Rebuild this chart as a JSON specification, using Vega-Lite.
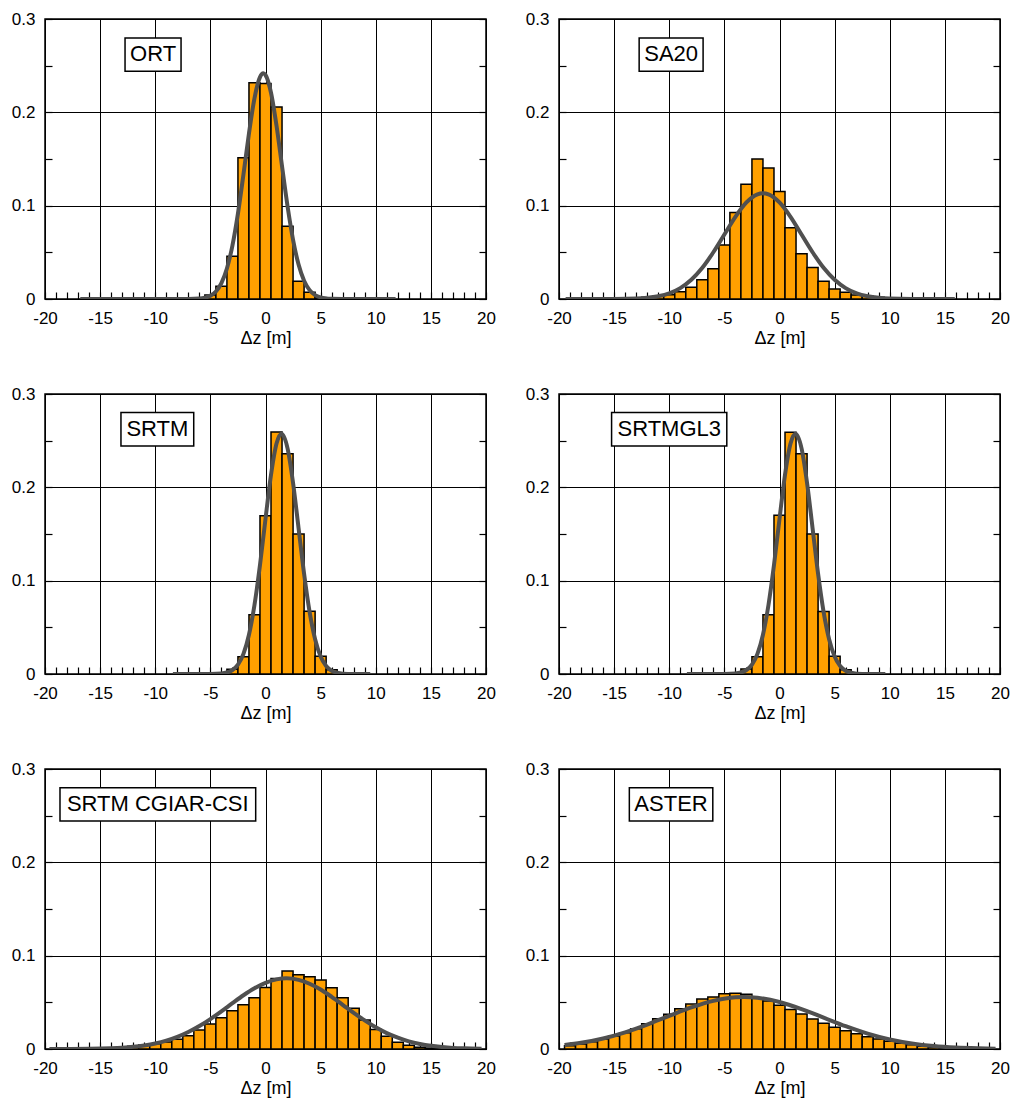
{
  "$schema": "https://vega.github.io/schema/vega-lite/v6.json",
  "background": "white",
  "padding": {"left": 10, "top": 9, "right": 2, "bottom": 2},
  "config": {
    "view": {"stroke": "black", "strokeWidth": 1.5},
    "font": "Liberation Sans",
    "text": {"font": "Liberation Sans"}
  },
  "datasets": {
    "bars": [
      {"p":"ORT","lo":-6.5,"hi":-5.5,"d":0.001},{"p":"ORT","lo":-5.5,"hi":-4.5,"d":0.0043},{"p":"ORT","lo":-4.5,"hi":-3.5,"d":0.0137},{"p":"ORT","lo":-3.5,"hi":-2.5,"d":0.0457},{"p":"ORT","lo":-2.5,"hi":-1.5,"d":0.1514},{"p":"ORT","lo":-1.5,"hi":-0.5,"d":0.2317},{"p":"ORT","lo":-0.5,"hi":0.5,"d":0.2309},{"p":"ORT","lo":0.5,"hi":1.5,"d":0.2058},{"p":"ORT","lo":1.5,"hi":2.5,"d":0.078},{"p":"ORT","lo":2.5,"hi":3.5,"d":0.019},{"p":"ORT","lo":3.5,"hi":4.5,"d":0.0072},{"p":"ORT","lo":4.5,"hi":5.5,"d":0.0015},
      {"p":"SA20","lo":-13.5,"hi":-12.5,"d":0.001},{"p":"SA20","lo":-12.5,"hi":-11.5,"d":0.0018},{"p":"SA20","lo":-11.5,"hi":-10.5,"d":0.003},{"p":"SA20","lo":-10.5,"hi":-9.5,"d":0.0045},{"p":"SA20","lo":-9.5,"hi":-8.5,"d":0.0079},{"p":"SA20","lo":-8.5,"hi":-7.5,"d":0.0126},{"p":"SA20","lo":-7.5,"hi":-6.5,"d":0.0205},{"p":"SA20","lo":-6.5,"hi":-5.5,"d":0.0324},{"p":"SA20","lo":-5.5,"hi":-4.5,"d":0.0579},{"p":"SA20","lo":-4.5,"hi":-3.5,"d":0.0928},{"p":"SA20","lo":-3.5,"hi":-2.5,"d":0.123},{"p":"SA20","lo":-2.5,"hi":-1.5,"d":0.150},{"p":"SA20","lo":-1.5,"hi":-0.5,"d":0.1403},{"p":"SA20","lo":-0.5,"hi":0.5,"d":0.1153},{"p":"SA20","lo":0.5,"hi":1.5,"d":0.0763},{"p":"SA20","lo":1.5,"hi":2.5,"d":0.0486},{"p":"SA20","lo":2.5,"hi":3.5,"d":0.0338},{"p":"SA20","lo":3.5,"hi":4.5,"d":0.0191},{"p":"SA20","lo":4.5,"hi":5.5,"d":0.0108},{"p":"SA20","lo":5.5,"hi":6.5,"d":0.0072},{"p":"SA20","lo":6.5,"hi":7.5,"d":0.0043},{"p":"SA20","lo":7.5,"hi":8.5,"d":0.003},{"p":"SA20","lo":8.5,"hi":9.5,"d":0.0018},{"p":"SA20","lo":9.5,"hi":10.5,"d":0.001},
      {"p":"SRTM","lo":-4.5,"hi":-3.5,"d":0.001},{"p":"SRTM","lo":-3.5,"hi":-2.5,"d":0.005},{"p":"SRTM","lo":-2.5,"hi":-1.5,"d":0.0186},{"p":"SRTM","lo":-1.5,"hi":-0.5,"d":0.0636},{"p":"SRTM","lo":-0.5,"hi":0.5,"d":0.1696},{"p":"SRTM","lo":0.5,"hi":1.5,"d":0.2593},{"p":"SRTM","lo":1.5,"hi":2.5,"d":0.236},{"p":"SRTM","lo":2.5,"hi":3.5,"d":0.150},{"p":"SRTM","lo":3.5,"hi":4.5,"d":0.0671},{"p":"SRTM","lo":4.5,"hi":5.5,"d":0.019},{"p":"SRTM","lo":5.5,"hi":6.5,"d":0.0046},{"p":"SRTM","lo":6.5,"hi":7.5,"d":0.001},
      {"p":"SRTMGL3","lo":-4.5,"hi":-3.5,"d":0.001},{"p":"SRTMGL3","lo":-3.5,"hi":-2.5,"d":0.0054},{"p":"SRTMGL3","lo":-2.5,"hi":-1.5,"d":0.0186},{"p":"SRTMGL3","lo":-1.5,"hi":-0.5,"d":0.0636},{"p":"SRTMGL3","lo":-0.5,"hi":0.5,"d":0.170},{"p":"SRTMGL3","lo":0.5,"hi":1.5,"d":0.259},{"p":"SRTMGL3","lo":1.5,"hi":2.5,"d":0.236},{"p":"SRTMGL3","lo":2.5,"hi":3.5,"d":0.150},{"p":"SRTMGL3","lo":3.5,"hi":4.5,"d":0.067},{"p":"SRTMGL3","lo":4.5,"hi":5.5,"d":0.019},{"p":"SRTMGL3","lo":5.5,"hi":6.5,"d":0.0046},{"p":"SRTMGL3","lo":6.5,"hi":7.5,"d":0.001},
      {"p":"CGIAR","lo":-15.5,"hi":-14.5,"d":0.0005},{"p":"CGIAR","lo":-14.5,"hi":-13.5,"d":0.001},{"p":"CGIAR","lo":-13.5,"hi":-12.5,"d":0.002},{"p":"CGIAR","lo":-12.5,"hi":-11.5,"d":0.003},{"p":"CGIAR","lo":-11.5,"hi":-10.5,"d":0.0043},{"p":"CGIAR","lo":-10.5,"hi":-9.5,"d":0.0057},{"p":"CGIAR","lo":-9.5,"hi":-8.5,"d":0.0075},{"p":"CGIAR","lo":-8.5,"hi":-7.5,"d":0.0104},{"p":"CGIAR","lo":-7.5,"hi":-6.5,"d":0.0143},{"p":"CGIAR","lo":-6.5,"hi":-5.5,"d":0.0204},{"p":"CGIAR","lo":-5.5,"hi":-4.5,"d":0.0268},{"p":"CGIAR","lo":-4.5,"hi":-3.5,"d":0.0336},{"p":"CGIAR","lo":-3.5,"hi":-2.5,"d":0.041},{"p":"CGIAR","lo":-2.5,"hi":-1.5,"d":0.0475},{"p":"CGIAR","lo":-1.5,"hi":-0.5,"d":0.055},{"p":"CGIAR","lo":-0.5,"hi":0.5,"d":0.066},{"p":"CGIAR","lo":0.5,"hi":1.5,"d":0.0755},{"p":"CGIAR","lo":1.5,"hi":2.5,"d":0.0836},{"p":"CGIAR","lo":2.5,"hi":3.5,"d":0.0796},{"p":"CGIAR","lo":3.5,"hi":4.5,"d":0.0775},{"p":"CGIAR","lo":4.5,"hi":5.5,"d":0.0739},{"p":"CGIAR","lo":5.5,"hi":6.5,"d":0.0657},{"p":"CGIAR","lo":6.5,"hi":7.5,"d":0.055},{"p":"CGIAR","lo":7.5,"hi":8.5,"d":0.0436},{"p":"CGIAR","lo":8.5,"hi":9.5,"d":0.031},{"p":"CGIAR","lo":9.5,"hi":10.5,"d":0.021},{"p":"CGIAR","lo":10.5,"hi":11.5,"d":0.0136},{"p":"CGIAR","lo":11.5,"hi":12.5,"d":0.0071},{"p":"CGIAR","lo":12.5,"hi":13.5,"d":0.0039},{"p":"CGIAR","lo":13.5,"hi":14.5,"d":0.0018},{"p":"CGIAR","lo":14.5,"hi":15.5,"d":0.001},{"p":"CGIAR","lo":15.5,"hi":16.5,"d":0.0005},
      {"p":"ASTER","lo":-19.5,"hi":-18.5,"d":0.0035},{"p":"ASTER","lo":-18.5,"hi":-17.5,"d":0.0054},{"p":"ASTER","lo":-17.5,"hi":-16.5,"d":0.0079},{"p":"ASTER","lo":-16.5,"hi":-15.5,"d":0.0107},{"p":"ASTER","lo":-15.5,"hi":-14.5,"d":0.014},{"p":"ASTER","lo":-14.5,"hi":-13.5,"d":0.0175},{"p":"ASTER","lo":-13.5,"hi":-12.5,"d":0.0218},{"p":"ASTER","lo":-12.5,"hi":-11.5,"d":0.0271},{"p":"ASTER","lo":-11.5,"hi":-10.5,"d":0.0325},{"p":"ASTER","lo":-10.5,"hi":-9.5,"d":0.0371},{"p":"ASTER","lo":-9.5,"hi":-8.5,"d":0.0432},{"p":"ASTER","lo":-8.5,"hi":-7.5,"d":0.0482},{"p":"ASTER","lo":-7.5,"hi":-6.5,"d":0.0536},{"p":"ASTER","lo":-6.5,"hi":-5.5,"d":0.0557},{"p":"ASTER","lo":-5.5,"hi":-4.5,"d":0.0593},{"p":"ASTER","lo":-4.5,"hi":-3.5,"d":0.0596},{"p":"ASTER","lo":-3.5,"hi":-2.5,"d":0.0586},{"p":"ASTER","lo":-2.5,"hi":-1.5,"d":0.0545},{"p":"ASTER","lo":-1.5,"hi":-0.5,"d":0.0513},{"p":"ASTER","lo":-0.5,"hi":0.5,"d":0.047},{"p":"ASTER","lo":0.5,"hi":1.5,"d":0.0423},{"p":"ASTER","lo":1.5,"hi":2.5,"d":0.0375},{"p":"ASTER","lo":2.5,"hi":3.5,"d":0.0322},{"p":"ASTER","lo":3.5,"hi":4.5,"d":0.0275},{"p":"ASTER","lo":4.5,"hi":5.5,"d":0.0234},{"p":"ASTER","lo":5.5,"hi":6.5,"d":0.0196},{"p":"ASTER","lo":6.5,"hi":7.5,"d":0.0164},{"p":"ASTER","lo":7.5,"hi":8.5,"d":0.0132},{"p":"ASTER","lo":8.5,"hi":9.5,"d":0.0107},{"p":"ASTER","lo":9.5,"hi":10.5,"d":0.0084},{"p":"ASTER","lo":10.5,"hi":11.5,"d":0.0062},{"p":"ASTER","lo":11.5,"hi":12.5,"d":0.0045},{"p":"ASTER","lo":12.5,"hi":13.5,"d":0.003},{"p":"ASTER","lo":13.5,"hi":14.5,"d":0.002},{"p":"ASTER","lo":14.5,"hi":15.5,"d":0.0012},{"p":"ASTER","lo":15.5,"hi":16.5,"d":0.0007},{"p":"ASTER","lo":16.5,"hi":17.5,"d":0.0004},{"p":"ASTER","lo":17.5,"hi":18.5,"d":0.0002}
    ],
    "curves": [
      {"p":"ORT","z":-16.8,"d":0},{"p":"ORT","z":-7,"d":0.00005},{"p":"ORT","z":-6,"d":0.0005},{"p":"ORT","z":-5.5,"d":0.0014},{"p":"ORT","z":-5,"d":0.0035},{"p":"ORT","z":-4.5,"d":0.0081},{"p":"ORT","z":-4,"d":0.0171},{"p":"ORT","z":-3.5,"d":0.0327},{"p":"ORT","z":-3,"d":0.0573},{"p":"ORT","z":-2.5,"d":0.0915},{"p":"ORT","z":-2,"d":0.1334},{"p":"ORT","z":-1.5,"d":0.1773},{"p":"ORT","z":-1,"d":0.215},{"p":"ORT","z":-0.5,"d":0.2378},{"p":"ORT","z":-0.2,"d":0.2418},{"p":"ORT","z":0,"d":0.24},{"p":"ORT","z":0.5,"d":0.221},{"p":"ORT","z":1,"d":0.1856},{"p":"ORT","z":1.5,"d":0.1422},{"p":"ORT","z":2,"d":0.0994},{"p":"ORT","z":2.5,"d":0.0634},{"p":"ORT","z":3,"d":0.0369},{"p":"ORT","z":3.5,"d":0.0196},{"p":"ORT","z":4,"d":0.0095},{"p":"ORT","z":4.5,"d":0.0042},{"p":"ORT","z":5,"d":0.0017},{"p":"ORT","z":5.5,"d":0.0006},{"p":"ORT","z":6,"d":0.0002},{"p":"ORT","z":7,"d":0.00003},{"p":"ORT","z":11.8,"d":0},
      {"p":"SA20","z":-19.4,"d":0},{"p":"SA20","z":-15,"d":0.0001},{"p":"SA20","z":-13,"d":0.0005},{"p":"SA20","z":-12,"d":0.0013},{"p":"SA20","z":-11,"d":0.003},{"p":"SA20","z":-10,"d":0.0061},{"p":"SA20","z":-9,"d":0.0117},{"p":"SA20","z":-8,"d":0.0206},{"p":"SA20","z":-7,"d":0.0334},{"p":"SA20","z":-6,"d":0.0501},{"p":"SA20","z":-5,"d":0.0691},{"p":"SA20","z":-4,"d":0.0881},{"p":"SA20","z":-3,"d":0.1035},{"p":"SA20","z":-2,"d":0.1122},{"p":"SA20","z":-1.5,"d":0.1133},{"p":"SA20","z":-1,"d":0.1122},{"p":"SA20","z":0,"d":0.1035},{"p":"SA20","z":1,"d":0.0881},{"p":"SA20","z":2,"d":0.0691},{"p":"SA20","z":3,"d":0.0501},{"p":"SA20","z":4,"d":0.0334},{"p":"SA20","z":5,"d":0.0206},{"p":"SA20","z":6,"d":0.0117},{"p":"SA20","z":7,"d":0.0061},{"p":"SA20","z":8,"d":0.003},{"p":"SA20","z":9,"d":0.0013},{"p":"SA20","z":10,"d":0.0005},{"p":"SA20","z":12,"d":0.0001},{"p":"SA20","z":15.9,"d":0},
      {"p":"SRTM","z":-8.4,"d":0},{"p":"SRTM","z":-5,"d":0.00004},{"p":"SRTM","z":-4,"d":0.0005},{"p":"SRTM","z":-3.5,"d":0.0016},{"p":"SRTM","z":-3,"d":0.0042},{"p":"SRTM","z":-2.5,"d":0.01},{"p":"SRTM","z":-2,"d":0.0216},{"p":"SRTM","z":-1.5,"d":0.0421},{"p":"SRTM","z":-1,"d":0.0739},{"p":"SRTM","z":-0.5,"d":0.1167},{"p":"SRTM","z":0,"d":0.1662},{"p":"SRTM","z":0.5,"d":0.2134},{"p":"SRTM","z":1,"d":0.2469},{"p":"SRTM","z":1.45,"d":0.2575},{"p":"SRTM","z":2,"d":0.2418},{"p":"SRTM","z":2.5,"d":0.2047},{"p":"SRTM","z":3,"d":0.1562},{"p":"SRTM","z":3.5,"d":0.1074},{"p":"SRTM","z":4,"d":0.0665},{"p":"SRTM","z":4.5,"d":0.0372},{"p":"SRTM","z":5,"d":0.0187},{"p":"SRTM","z":5.5,"d":0.0085},{"p":"SRTM","z":6,"d":0.0035},{"p":"SRTM","z":6.5,"d":0.0013},{"p":"SRTM","z":7,"d":0.0004},{"p":"SRTM","z":8,"d":0.00003},{"p":"SRTM","z":9.5,"d":0},
      {"p":"SRTMGL3","z":-8.4,"d":0},{"p":"SRTMGL3","z":-5,"d":0.00004},{"p":"SRTMGL3","z":-4,"d":0.0005},{"p":"SRTMGL3","z":-3.5,"d":0.0016},{"p":"SRTMGL3","z":-3,"d":0.0042},{"p":"SRTMGL3","z":-2.5,"d":0.01},{"p":"SRTMGL3","z":-2,"d":0.0216},{"p":"SRTMGL3","z":-1.5,"d":0.0421},{"p":"SRTMGL3","z":-1,"d":0.0739},{"p":"SRTMGL3","z":-0.5,"d":0.1167},{"p":"SRTMGL3","z":0,"d":0.1662},{"p":"SRTMGL3","z":0.5,"d":0.2134},{"p":"SRTMGL3","z":1,"d":0.2469},{"p":"SRTMGL3","z":1.45,"d":0.2575},{"p":"SRTMGL3","z":2,"d":0.2418},{"p":"SRTMGL3","z":2.5,"d":0.2047},{"p":"SRTMGL3","z":3,"d":0.1562},{"p":"SRTMGL3","z":3.5,"d":0.1074},{"p":"SRTMGL3","z":4,"d":0.0665},{"p":"SRTMGL3","z":4.5,"d":0.0372},{"p":"SRTMGL3","z":5,"d":0.0187},{"p":"SRTMGL3","z":5.5,"d":0.0085},{"p":"SRTMGL3","z":6,"d":0.0035},{"p":"SRTMGL3","z":6.5,"d":0.0013},{"p":"SRTMGL3","z":7,"d":0.0004},{"p":"SRTMGL3","z":8,"d":0.00003},{"p":"SRTMGL3","z":9.6,"d":0},
      {"p":"CGIAR","z":-19.6,"d":0.00002},{"p":"CGIAR","z":-18,"d":0.00006},{"p":"CGIAR","z":-16,"d":0.0002},{"p":"CGIAR","z":-14,"d":0.0008},{"p":"CGIAR","z":-13,"d":0.0014},{"p":"CGIAR","z":-12,"d":0.0023},{"p":"CGIAR","z":-11,"d":0.0038},{"p":"CGIAR","z":-10,"d":0.0059},{"p":"CGIAR","z":-9,"d":0.0089},{"p":"CGIAR","z":-8,"d":0.013},{"p":"CGIAR","z":-7,"d":0.0182},{"p":"CGIAR","z":-6,"d":0.0246},{"p":"CGIAR","z":-5,"d":0.0321},{"p":"CGIAR","z":-4,"d":0.0404},{"p":"CGIAR","z":-3,"d":0.0491},{"p":"CGIAR","z":-2,"d":0.0576},{"p":"CGIAR","z":-1,"d":0.0651},{"p":"CGIAR","z":0,"d":0.0709},{"p":"CGIAR","z":1,"d":0.0746},{"p":"CGIAR","z":1.9,"d":0.0757},{"p":"CGIAR","z":3,"d":0.0741},{"p":"CGIAR","z":4,"d":0.0699},{"p":"CGIAR","z":5,"d":0.0637},{"p":"CGIAR","z":6,"d":0.0559},{"p":"CGIAR","z":7,"d":0.0474},{"p":"CGIAR","z":8,"d":0.0387},{"p":"CGIAR","z":9,"d":0.0306},{"p":"CGIAR","z":10,"d":0.0232},{"p":"CGIAR","z":11,"d":0.017},{"p":"CGIAR","z":12,"d":0.0121},{"p":"CGIAR","z":13,"d":0.0082},{"p":"CGIAR","z":14,"d":0.0054},{"p":"CGIAR","z":15,"d":0.0034},{"p":"CGIAR","z":16,"d":0.0021},{"p":"CGIAR","z":17,"d":0.0012},{"p":"CGIAR","z":18,"d":0.0007},{"p":"CGIAR","z":19.6,"d":0.0003},
      {"p":"ASTER","z":-19.5,"d":0.0042},{"p":"ASTER","z":-18,"d":0.0066},{"p":"ASTER","z":-16,"d":0.0113},{"p":"ASTER","z":-14,"d":0.0179},{"p":"ASTER","z":-12,"d":0.0262},{"p":"ASTER","z":-10,"d":0.0355},{"p":"ASTER","z":-8,"d":0.0445},{"p":"ASTER","z":-6,"d":0.0516},{"p":"ASTER","z":-4,"d":0.0554},{"p":"ASTER","z":-3.2,"d":0.0557},{"p":"ASTER","z":-2,"d":0.0549},{"p":"ASTER","z":0,"d":0.0504},{"p":"ASTER","z":2,"d":0.0428},{"p":"ASTER","z":4,"d":0.0336},{"p":"ASTER","z":6,"d":0.0244},{"p":"ASTER","z":8,"d":0.0164},{"p":"ASTER","z":10,"d":0.0102},{"p":"ASTER","z":12,"d":0.0059},{"p":"ASTER","z":14,"d":0.0031},{"p":"ASTER","z":16,"d":0.0015},{"p":"ASTER","z":18,"d":0.0007},{"p":"ASTER","z":19.6,"d":0.00035}
    ]
  },
  "columns": 2,
  "spacing": {"row": 95, "column": 73},
  "bounds": "flush",
  "concat": [
    {
      "width": 441, "height": 280,
      "layer": [
        {"data": {"name": "bars"}, "transform": [{"filter": "datum.p === 'ORT'"}],
         "mark": {"type": "rect", "fill": "#FFA000", "stroke": "black", "strokeWidth": 1.5},
         "encoding": {
           "x": {"field": "lo", "type": "quantitative", "title": "Δz [m]", "scale": {"domain": [-20, 20], "nice": false, "zero": false},
                 "axis": {"values": [-20,-19,-18,-17,-16,-15,-14,-13,-12,-11,-10,-9,-8,-7,-6,-5,-4,-3,-2,-1,0,1,2,3,4,5,6,7,8,9,10,11,12,13,14,15,16,17,18,19,20], "labelExpr": "datum.value % 5 === 0 ? '' + datum.value : ''", "grid": true, "gridColor": "black", "gridWidth": 1, "gridOpacity": {"condition": {"test": "datum.value % 5 === 0", "value": 1}, "value": 0}, "domain": false, "tickSize": -7, "tickColor": "black", "tickWidth": 1.2, "labelFontSize": 17, "labelColor": "black", "labelPadding": 18, "labelFlush": false, "labelOverlap": false, "labelBound": false, "titleFontSize": 18, "titleFontWeight": "normal", "titleColor": "black", "titlePadding": 3}},
           "x2": {"field": "hi"},
           "y": {"field": "d", "type": "quantitative", "title": null, "scale": {"domain": [0, 0.3], "nice": false},
                 "axis": {"values": [0, 0.05, 0.1, 0.15, 0.2, 0.25, 0.3], "labelExpr": "round(datum.value*100) % 10 === 0 ? (datum.value === 0 ? '0' : format(datum.value, '.1f')) : ''", "grid": true, "gridColor": "black", "gridWidth": 1, "gridOpacity": {"condition": {"test": "round(datum.value*100) % 10 === 0", "value": 1}, "value": 0}, "domain": false, "tickSize": -7, "tickColor": "black", "tickWidth": 1.2, "labelFontSize": 17, "labelColor": "black", "labelPadding": 17, "labelFlush": false, "labelOverlap": false, "labelBound": false}},
           "y2": {"datum": 0}
         }},
        {"data": {"name": "curves"}, "transform": [{"filter": "datum.p === 'ORT'"}],
         "mark": {"type": "line", "color": "#505050", "strokeWidth": 4, "interpolate": "monotone", "clip": true},
         "encoding": {
           "x": {"field": "z", "type": "quantitative", "axis": null},
           "y": {"field": "d", "type": "quantitative", "title": null, "axis": {"orient": "right", "values": [0, 0.05, 0.1, 0.15, 0.2, 0.25, 0.3], "labels": false, "grid": false, "domain": false, "tickSize": -7, "tickColor": "black", "tickWidth": 1.2}}
         }},
        {"data": {"values": [{}]},
         "mark": {"type": "rect", "fill": "white", "stroke": "black", "strokeWidth": 1.5},
         "encoding": {"x": {"datum": -12.74, "type": "quantitative", "axis": null}, "x2": {"datum": -7.66}, "y": {"datum": 0.2796, "type": "quantitative", "axis": null}, "y2": {"datum": 0.2441}}},
        {"data": {"values": [{}]},
         "mark": {"type": "text", "fontSize": 22, "color": "black", "align": "center", "baseline": "middle"},
         "encoding": {"x": {"datum": -10.2, "type": "quantitative", "axis": null}, "y": {"datum": 0.262, "type": "quantitative", "axis": null}, "text": {"value": "ORT"}}}
      ],
      "resolve": {"axis": {"x": "independent", "y": "independent"}}
    },
    {
      "width": 441, "height": 280,
      "layer": [
        {"data": {"name": "bars"}, "transform": [{"filter": "datum.p === 'SA20'"}],
         "mark": {"type": "rect", "fill": "#FFA000", "stroke": "black", "strokeWidth": 1.5},
         "encoding": {
           "x": {"field": "lo", "type": "quantitative", "title": "Δz [m]", "scale": {"domain": [-20, 20], "nice": false, "zero": false},
                 "axis": {"values": [-20,-19,-18,-17,-16,-15,-14,-13,-12,-11,-10,-9,-8,-7,-6,-5,-4,-3,-2,-1,0,1,2,3,4,5,6,7,8,9,10,11,12,13,14,15,16,17,18,19,20], "labelExpr": "datum.value % 5 === 0 ? '' + datum.value : ''", "grid": true, "gridColor": "black", "gridWidth": 1, "gridOpacity": {"condition": {"test": "datum.value % 5 === 0", "value": 1}, "value": 0}, "domain": false, "tickSize": -7, "tickColor": "black", "tickWidth": 1.2, "labelFontSize": 17, "labelColor": "black", "labelPadding": 18, "labelFlush": false, "labelOverlap": false, "labelBound": false, "titleFontSize": 18, "titleFontWeight": "normal", "titleColor": "black", "titlePadding": 3}},
           "x2": {"field": "hi"},
           "y": {"field": "d", "type": "quantitative", "title": null, "scale": {"domain": [0, 0.3], "nice": false},
                 "axis": {"values": [0, 0.05, 0.1, 0.15, 0.2, 0.25, 0.3], "labelExpr": "round(datum.value*100) % 10 === 0 ? (datum.value === 0 ? '0' : format(datum.value, '.1f')) : ''", "grid": true, "gridColor": "black", "gridWidth": 1, "gridOpacity": {"condition": {"test": "round(datum.value*100) % 10 === 0", "value": 1}, "value": 0}, "domain": false, "tickSize": -7, "tickColor": "black", "tickWidth": 1.2, "labelFontSize": 17, "labelColor": "black", "labelPadding": 17, "labelFlush": false, "labelOverlap": false, "labelBound": false}},
           "y2": {"datum": 0}
         }},
        {"data": {"name": "curves"}, "transform": [{"filter": "datum.p === 'SA20'"}],
         "mark": {"type": "line", "color": "#505050", "strokeWidth": 4, "interpolate": "monotone", "clip": true},
         "encoding": {
           "x": {"field": "z", "type": "quantitative", "axis": null},
           "y": {"field": "d", "type": "quantitative", "title": null, "axis": {"orient": "right", "values": [0, 0.05, 0.1, 0.15, 0.2, 0.25, 0.3], "labels": false, "grid": false, "domain": false, "tickSize": -7, "tickColor": "black", "tickWidth": 1.2}}
         }},
        {"data": {"values": [{}]},
         "mark": {"type": "rect", "fill": "white", "stroke": "black", "strokeWidth": 1.5},
         "encoding": {"x": {"datum": -12.73, "type": "quantitative", "axis": null}, "x2": {"datum": -6.93}, "y": {"datum": 0.2796, "type": "quantitative", "axis": null}, "y2": {"datum": 0.2441}}},
        {"data": {"values": [{}]},
         "mark": {"type": "text", "fontSize": 22, "color": "black", "align": "center", "baseline": "middle"},
         "encoding": {"x": {"datum": -9.83, "type": "quantitative", "axis": null}, "y": {"datum": 0.262, "type": "quantitative", "axis": null}, "text": {"value": "SA20"}}}
      ],
      "resolve": {"axis": {"x": "independent", "y": "independent"}}
    },
    {
      "width": 441, "height": 280,
      "layer": [
        {"data": {"name": "bars"}, "transform": [{"filter": "datum.p === 'SRTM'"}],
         "mark": {"type": "rect", "fill": "#FFA000", "stroke": "black", "strokeWidth": 1.5},
         "encoding": {
           "x": {"field": "lo", "type": "quantitative", "title": "Δz [m]", "scale": {"domain": [-20, 20], "nice": false, "zero": false},
                 "axis": {"values": [-20,-19,-18,-17,-16,-15,-14,-13,-12,-11,-10,-9,-8,-7,-6,-5,-4,-3,-2,-1,0,1,2,3,4,5,6,7,8,9,10,11,12,13,14,15,16,17,18,19,20], "labelExpr": "datum.value % 5 === 0 ? '' + datum.value : ''", "grid": true, "gridColor": "black", "gridWidth": 1, "gridOpacity": {"condition": {"test": "datum.value % 5 === 0", "value": 1}, "value": 0}, "domain": false, "tickSize": -7, "tickColor": "black", "tickWidth": 1.2, "labelFontSize": 17, "labelColor": "black", "labelPadding": 18, "labelFlush": false, "labelOverlap": false, "labelBound": false, "titleFontSize": 18, "titleFontWeight": "normal", "titleColor": "black", "titlePadding": 3}},
           "x2": {"field": "hi"},
           "y": {"field": "d", "type": "quantitative", "title": null, "scale": {"domain": [0, 0.3], "nice": false},
                 "axis": {"values": [0, 0.05, 0.1, 0.15, 0.2, 0.25, 0.3], "labelExpr": "round(datum.value*100) % 10 === 0 ? (datum.value === 0 ? '0' : format(datum.value, '.1f')) : ''", "grid": true, "gridColor": "black", "gridWidth": 1, "gridOpacity": {"condition": {"test": "round(datum.value*100) % 10 === 0", "value": 1}, "value": 0}, "domain": false, "tickSize": -7, "tickColor": "black", "tickWidth": 1.2, "labelFontSize": 17, "labelColor": "black", "labelPadding": 17, "labelFlush": false, "labelOverlap": false, "labelBound": false}},
           "y2": {"datum": 0}
         }},
        {"data": {"name": "curves"}, "transform": [{"filter": "datum.p === 'SRTM'"}],
         "mark": {"type": "line", "color": "#505050", "strokeWidth": 4, "interpolate": "monotone", "clip": true},
         "encoding": {
           "x": {"field": "z", "type": "quantitative", "axis": null},
           "y": {"field": "d", "type": "quantitative", "title": null, "axis": {"orient": "right", "values": [0, 0.05, 0.1, 0.15, 0.2, 0.25, 0.3], "labels": false, "grid": false, "domain": false, "tickSize": -7, "tickColor": "black", "tickWidth": 1.2}}
         }},
        {"data": {"values": [{}]},
         "mark": {"type": "rect", "fill": "white", "stroke": "black", "strokeWidth": 1.5},
         "encoding": {"x": {"datum": -13.11, "type": "quantitative", "axis": null}, "x2": {"datum": -6.51}, "y": {"datum": 0.2803, "type": "quantitative", "axis": null}, "y2": {"datum": 0.2443}}},
        {"data": {"values": [{}]},
         "mark": {"type": "text", "fontSize": 22, "color": "black", "align": "center", "baseline": "middle"},
         "encoding": {"x": {"datum": -9.81, "type": "quantitative", "axis": null}, "y": {"datum": 0.2623, "type": "quantitative", "axis": null}, "text": {"value": "SRTM"}}}
      ],
      "resolve": {"axis": {"x": "independent", "y": "independent"}}
    },
    {
      "width": 441, "height": 280,
      "layer": [
        {"data": {"name": "bars"}, "transform": [{"filter": "datum.p === 'SRTMGL3'"}],
         "mark": {"type": "rect", "fill": "#FFA000", "stroke": "black", "strokeWidth": 1.5},
         "encoding": {
           "x": {"field": "lo", "type": "quantitative", "title": "Δz [m]", "scale": {"domain": [-20, 20], "nice": false, "zero": false},
                 "axis": {"values": [-20,-19,-18,-17,-16,-15,-14,-13,-12,-11,-10,-9,-8,-7,-6,-5,-4,-3,-2,-1,0,1,2,3,4,5,6,7,8,9,10,11,12,13,14,15,16,17,18,19,20], "labelExpr": "datum.value % 5 === 0 ? '' + datum.value : ''", "grid": true, "gridColor": "black", "gridWidth": 1, "gridOpacity": {"condition": {"test": "datum.value % 5 === 0", "value": 1}, "value": 0}, "domain": false, "tickSize": -7, "tickColor": "black", "tickWidth": 1.2, "labelFontSize": 17, "labelColor": "black", "labelPadding": 18, "labelFlush": false, "labelOverlap": false, "labelBound": false, "titleFontSize": 18, "titleFontWeight": "normal", "titleColor": "black", "titlePadding": 3}},
           "x2": {"field": "hi"},
           "y": {"field": "d", "type": "quantitative", "title": null, "scale": {"domain": [0, 0.3], "nice": false},
                 "axis": {"values": [0, 0.05, 0.1, 0.15, 0.2, 0.25, 0.3], "labelExpr": "round(datum.value*100) % 10 === 0 ? (datum.value === 0 ? '0' : format(datum.value, '.1f')) : ''", "grid": true, "gridColor": "black", "gridWidth": 1, "gridOpacity": {"condition": {"test": "round(datum.value*100) % 10 === 0", "value": 1}, "value": 0}, "domain": false, "tickSize": -7, "tickColor": "black", "tickWidth": 1.2, "labelFontSize": 17, "labelColor": "black", "labelPadding": 17, "labelFlush": false, "labelOverlap": false, "labelBound": false}},
           "y2": {"datum": 0}
         }},
        {"data": {"name": "curves"}, "transform": [{"filter": "datum.p === 'SRTMGL3'"}],
         "mark": {"type": "line", "color": "#505050", "strokeWidth": 4, "interpolate": "monotone", "clip": true},
         "encoding": {
           "x": {"field": "z", "type": "quantitative", "axis": null},
           "y": {"field": "d", "type": "quantitative", "title": null, "axis": {"orient": "right", "values": [0, 0.05, 0.1, 0.15, 0.2, 0.25, 0.3], "labels": false, "grid": false, "domain": false, "tickSize": -7, "tickColor": "black", "tickWidth": 1.2}}
         }},
        {"data": {"values": [{}]},
         "mark": {"type": "rect", "fill": "white", "stroke": "black", "strokeWidth": 1.5},
         "encoding": {"x": {"datum": -15.23, "type": "quantitative", "axis": null}, "x2": {"datum": -4.78}, "y": {"datum": 0.2803, "type": "quantitative", "axis": null}, "y2": {"datum": 0.2443}}},
        {"data": {"values": [{}]},
         "mark": {"type": "text", "fontSize": 22, "color": "black", "align": "center", "baseline": "middle"},
         "encoding": {"x": {"datum": -10.0, "type": "quantitative", "axis": null}, "y": {"datum": 0.2623, "type": "quantitative", "axis": null}, "text": {"value": "SRTMGL3"}}}
      ],
      "resolve": {"axis": {"x": "independent", "y": "independent"}}
    },
    {
      "width": 441, "height": 280,
      "layer": [
        {"data": {"name": "bars"}, "transform": [{"filter": "datum.p === 'CGIAR'"}],
         "mark": {"type": "rect", "fill": "#FFA000", "stroke": "black", "strokeWidth": 1.5},
         "encoding": {
           "x": {"field": "lo", "type": "quantitative", "title": "Δz [m]", "scale": {"domain": [-20, 20], "nice": false, "zero": false},
                 "axis": {"values": [-20,-19,-18,-17,-16,-15,-14,-13,-12,-11,-10,-9,-8,-7,-6,-5,-4,-3,-2,-1,0,1,2,3,4,5,6,7,8,9,10,11,12,13,14,15,16,17,18,19,20], "labelExpr": "datum.value % 5 === 0 ? '' + datum.value : ''", "grid": true, "gridColor": "black", "gridWidth": 1, "gridOpacity": {"condition": {"test": "datum.value % 5 === 0", "value": 1}, "value": 0}, "domain": false, "tickSize": -7, "tickColor": "black", "tickWidth": 1.2, "labelFontSize": 17, "labelColor": "black", "labelPadding": 18, "labelFlush": false, "labelOverlap": false, "labelBound": false, "titleFontSize": 18, "titleFontWeight": "normal", "titleColor": "black", "titlePadding": 3}},
           "x2": {"field": "hi"},
           "y": {"field": "d", "type": "quantitative", "title": null, "scale": {"domain": [0, 0.3], "nice": false},
                 "axis": {"values": [0, 0.05, 0.1, 0.15, 0.2, 0.25, 0.3], "labelExpr": "round(datum.value*100) % 10 === 0 ? (datum.value === 0 ? '0' : format(datum.value, '.1f')) : ''", "grid": true, "gridColor": "black", "gridWidth": 1, "gridOpacity": {"condition": {"test": "round(datum.value*100) % 10 === 0", "value": 1}, "value": 0}, "domain": false, "tickSize": -7, "tickColor": "black", "tickWidth": 1.2, "labelFontSize": 17, "labelColor": "black", "labelPadding": 17, "labelFlush": false, "labelOverlap": false, "labelBound": false}},
           "y2": {"datum": 0}
         }},
        {"data": {"name": "curves"}, "transform": [{"filter": "datum.p === 'CGIAR'"}],
         "mark": {"type": "line", "color": "#505050", "strokeWidth": 4, "interpolate": "monotone", "clip": true},
         "encoding": {
           "x": {"field": "z", "type": "quantitative", "axis": null},
           "y": {"field": "d", "type": "quantitative", "title": null, "axis": {"orient": "right", "values": [0, 0.05, 0.1, 0.15, 0.2, 0.25, 0.3], "labels": false, "grid": false, "domain": false, "tickSize": -7, "tickColor": "black", "tickWidth": 1.2}}
         }},
        {"data": {"values": [{}]},
         "mark": {"type": "rect", "fill": "white", "stroke": "black", "strokeWidth": 1.5},
         "encoding": {"x": {"datum": -18.64, "type": "quantitative", "axis": null}, "x2": {"datum": -0.89}, "y": {"datum": 0.28, "type": "quantitative", "axis": null}, "y2": {"datum": 0.2443}}},
        {"data": {"values": [{}]},
         "mark": {"type": "text", "fontSize": 22, "color": "black", "align": "center", "baseline": "middle"},
         "encoding": {"x": {"datum": -9.77, "type": "quantitative", "axis": null}, "y": {"datum": 0.2622, "type": "quantitative", "axis": null}, "text": {"value": "SRTM CGIAR-CSI"}}}
      ],
      "resolve": {"axis": {"x": "independent", "y": "independent"}}
    },
    {
      "width": 441, "height": 280,
      "layer": [
        {"data": {"name": "bars"}, "transform": [{"filter": "datum.p === 'ASTER'"}],
         "mark": {"type": "rect", "fill": "#FFA000", "stroke": "black", "strokeWidth": 1.5},
         "encoding": {
           "x": {"field": "lo", "type": "quantitative", "title": "Δz [m]", "scale": {"domain": [-20, 20], "nice": false, "zero": false},
                 "axis": {"values": [-20,-19,-18,-17,-16,-15,-14,-13,-12,-11,-10,-9,-8,-7,-6,-5,-4,-3,-2,-1,0,1,2,3,4,5,6,7,8,9,10,11,12,13,14,15,16,17,18,19,20], "labelExpr": "datum.value % 5 === 0 ? '' + datum.value : ''", "grid": true, "gridColor": "black", "gridWidth": 1, "gridOpacity": {"condition": {"test": "datum.value % 5 === 0", "value": 1}, "value": 0}, "domain": false, "tickSize": -7, "tickColor": "black", "tickWidth": 1.2, "labelFontSize": 17, "labelColor": "black", "labelPadding": 18, "labelFlush": false, "labelOverlap": false, "labelBound": false, "titleFontSize": 18, "titleFontWeight": "normal", "titleColor": "black", "titlePadding": 3}},
           "x2": {"field": "hi"},
           "y": {"field": "d", "type": "quantitative", "title": null, "scale": {"domain": [0, 0.3], "nice": false},
                 "axis": {"values": [0, 0.05, 0.1, 0.15, 0.2, 0.25, 0.3], "labelExpr": "round(datum.value*100) % 10 === 0 ? (datum.value === 0 ? '0' : format(datum.value, '.1f')) : ''", "grid": true, "gridColor": "black", "gridWidth": 1, "gridOpacity": {"condition": {"test": "round(datum.value*100) % 10 === 0", "value": 1}, "value": 0}, "domain": false, "tickSize": -7, "tickColor": "black", "tickWidth": 1.2, "labelFontSize": 17, "labelColor": "black", "labelPadding": 17, "labelFlush": false, "labelOverlap": false, "labelBound": false}},
           "y2": {"datum": 0}
         }},
        {"data": {"name": "curves"}, "transform": [{"filter": "datum.p === 'ASTER'"}],
         "mark": {"type": "line", "color": "#505050", "strokeWidth": 4, "interpolate": "monotone", "clip": true},
         "encoding": {
           "x": {"field": "z", "type": "quantitative", "axis": null},
           "y": {"field": "d", "type": "quantitative", "title": null, "axis": {"orient": "right", "values": [0, 0.05, 0.1, 0.15, 0.2, 0.25, 0.3], "labels": false, "grid": false, "domain": false, "tickSize": -7, "tickColor": "black", "tickWidth": 1.2}}
         }},
        {"data": {"values": [{}]},
         "mark": {"type": "rect", "fill": "white", "stroke": "black", "strokeWidth": 1.5},
         "encoding": {"x": {"datum": -13.62, "type": "quantitative", "axis": null}, "x2": {"datum": -6.05}, "y": {"datum": 0.28, "type": "quantitative", "axis": null}, "y2": {"datum": 0.2443}}},
        {"data": {"values": [{}]},
         "mark": {"type": "text", "fontSize": 22, "color": "black", "align": "center", "baseline": "middle"},
         "encoding": {"x": {"datum": -9.84, "type": "quantitative", "axis": null}, "y": {"datum": 0.2622, "type": "quantitative", "axis": null}, "text": {"value": "ASTER"}}}
      ],
      "resolve": {"axis": {"x": "independent", "y": "independent"}}
    }
  ]
}
